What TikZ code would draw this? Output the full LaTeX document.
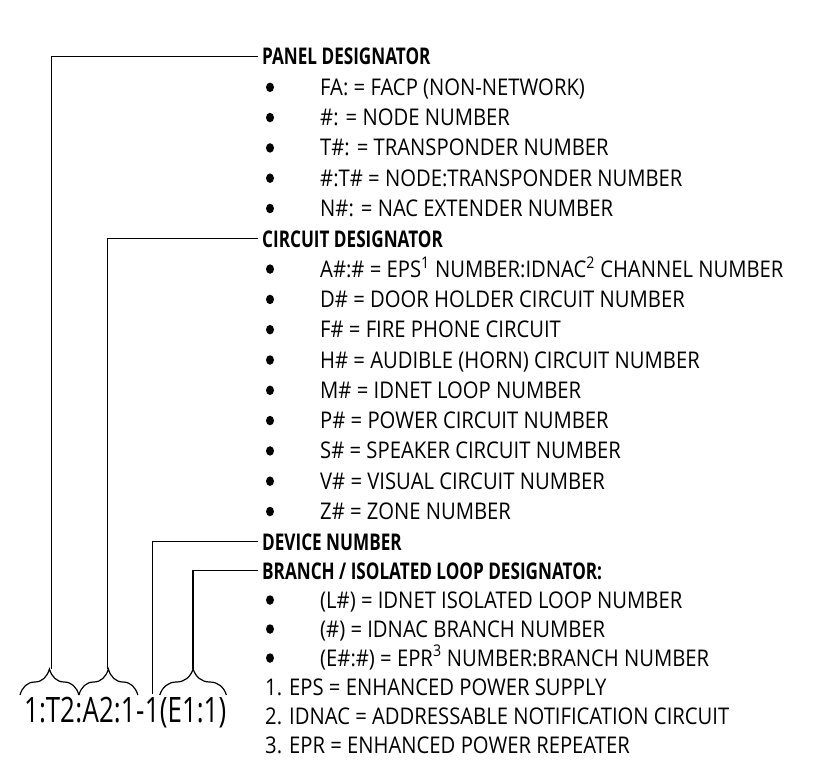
\documentclass[tikz,border=0pt]{standalone}
\usepackage{fontspec}
\setmainfont{Open Sans}[FakeStretch=0.88,BoldFeatures={FakeStretch=0.745}]
\newfontfamily\desigfont{Open Sans}[FakeStretch=0.74]
\usetikzlibrary{positioning,decorations.pathreplacing,calc,shapes.geometric}

\begin{document}
\begin{tikzpicture}[
  x=1pt,y=-1pt,
  every node/.style={inner sep=0pt},
  hdtext/.style={font=\fontsize{23}{26}\selectfont\bfseries,anchor=base west,inner xsep=4pt},
  itemtext/.style={font=\fontsize{23}{26}\selectfont,anchor=base west},
  bulletdot/.style={ellipse,fill,minimum width=8pt,minimum height=9.5pt},
  desig/.style={font=\desigfont\fontsize{35}{38}\selectfont,anchor=base west},
  lead/.style={line width=1.2pt},
  curly/.style={line width=1.2pt,decorate,decoration={brace,amplitude=26pt}},
]
  \useasboundingbox (0,0) rectangle (830,784);

  % Headings (row centre + 8 = baseline)
  \node[hdtext] (panelhd) at (258,65) {PANEL DESIGNATOR};
  \node[hdtext] (circuithd) at (258,247) {CIRCUIT DESIGNATOR};
  \node[hdtext] (devicehd) at (258,550) {DEVICE NUMBER};
  \node[hdtext] (branchhd) at (258,579) {BRANCH / ISOLATED LOOP DESIGNATOR:};

  % Bulleted items
  \foreach \r/\txt in {1/{FA: = FACP (NON-NETWORK)},
                       2/{\#: = NODE NUMBER},
                       3/{T\#: = TRANSPONDER NUMBER},
                       4/{\#:T\# = NODE:TRANSPONDER NUMBER},
                       5/{N\#: = NAC EXTENDER NUMBER},
                       7/{A\#:\# = EPS\textsuperscript{1} NUMBER:IDNAC\textsuperscript{2} CHANNEL NUMBER},
                       8/{D\# = DOOR HOLDER CIRCUIT NUMBER},
                       9/{F\# = FIRE PHONE CIRCUIT},
                       10/{H\# = AUDIBLE (HORN) CIRCUIT NUMBER},
                       11/{M\# = IDNET LOOP NUMBER},
                       12/{P\# = POWER CIRCUIT NUMBER},
                       13/{S\# = SPEAKER CIRCUIT NUMBER},
                       14/{V\# = VISUAL CIRCUIT NUMBER},
                       15/{Z\# = ZONE NUMBER}} {
    \pgfmathsetmacro\y{57+30.3*\r}
    \node[bulletdot] (dot\r) at (270,\y) {};
    \node[itemtext] (item\r) at (320,\y+8) {\txt};
  }
  \foreach \r/\txt in {18/{(L\#) = IDNET ISOLATED LOOP NUMBER},
                       19/{(\#) = IDNAC BRANCH NUMBER},
                       20/{(E\#:\#) = EPR\textsuperscript{3} NUMBER:BRANCH NUMBER}} {
    \pgfmathsetmacro\y{542+29*(\r-16)}
    \node[bulletdot] (dot\r) at (270,\y) {};
    \node[itemtext] (item\r) at (320,\y+8) {\txt};
  }

  % Footnotes
  \foreach \r/\txt in {21/{1. EPS = ENHANCED POWER SUPPLY},
                       22/{2. IDNAC = ADDRESSABLE NOTIFICATION CIRCUIT},
                       23/{3. EPR = ENHANCED POWER REPEATER}} {
    \pgfmathsetmacro\y{542+29*(\r-16)}
    \node[itemtext] (note\r) at (265,\y+8) {\txt};
  }

  % Designator string
  \node[desig] (dA) at (24,722) {1:T2};
  \node[desig] (dAB) at (dA.base east) {:};
  \node[desig] (dB) at (dAB.base east) {A2:1};
  \node[desig] (dBC) at (dB.base east) {-};
  \node[desig] (dC) at (dBC.base east) {1};
  \node[desig] (dD) at (dC.base east) {(E1:1)};

  % Braces
  \draw[curly] ([xshift=-4pt,yshift=27pt]dA.base west) -- ([yshift=27pt]dAB.base);
  \draw[curly] ([yshift=27pt]dAB.base) -- ([xshift=2pt,yshift=27pt]dB.base east);
  \draw[curly] ([yshift=27pt]dD.base west) -- ([yshift=27pt]dD.base east);
  \coordinate (tipA) at ([yshift=53pt]$(dA.base west)!0.5!(dAB.base)$);
  \coordinate (tipB) at ([yshift=53pt]$(dAB.base)!0.5!(dB.base east)$);
  \coordinate (tipD) at ([yshift=53pt]dD.base);

  % Leaders
  \draw[lead] (tipA) |- (panelhd.west);
  \draw[lead] (tipB) |- (circuithd.west);
  \draw[lead] ([yshift=3pt]dC.north) |- (devicehd.west);
  \draw[lead] (tipD) |- (branchhd.west);
\end{tikzpicture}
\end{document}
